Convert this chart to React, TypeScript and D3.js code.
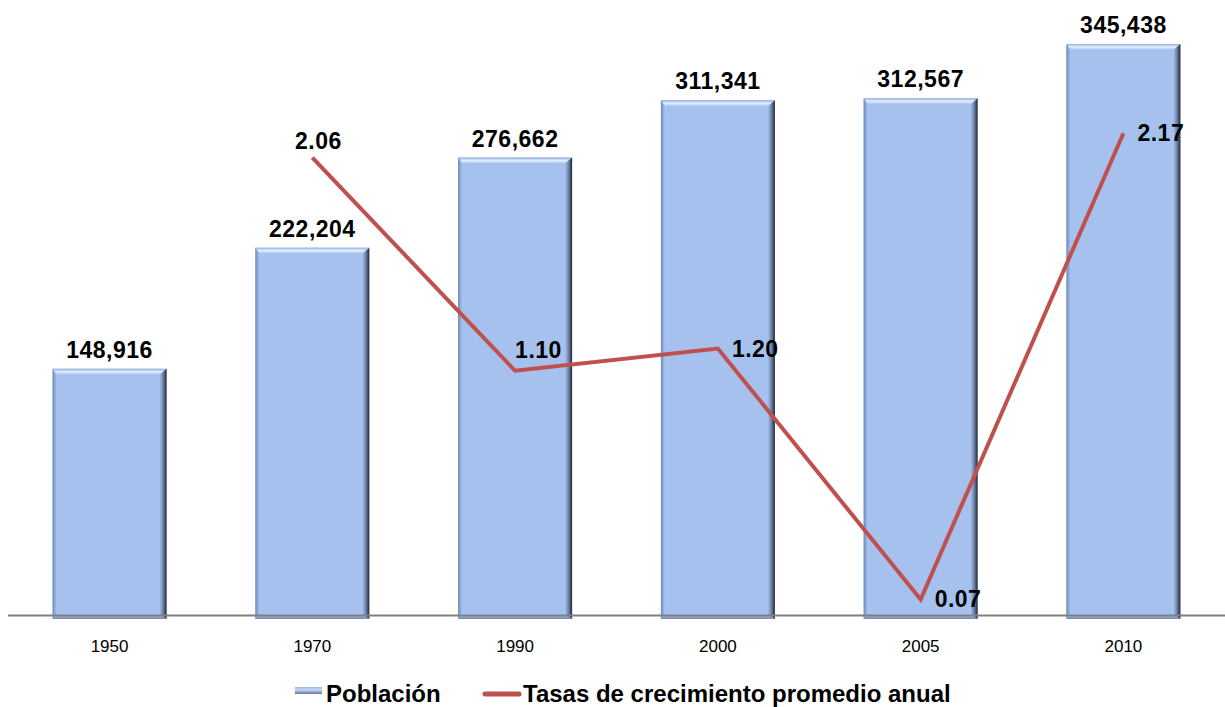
import React from 'react';
import * as d3 from 'd3';

const years = ['1950', '1970', '1990', '2000', '2005', '2010'];
const poblacion = [148916, 222204, 276662, 311341, 312567, 345438];
const tasaYears = ['1970', '1990', '2000', '2005', '2010'];
const tasas = [2.06, 1.1, 1.2, 0.07, 2.17];
// where each growth-rate label sits relative to its point
const tasaLabelPos = ['top', 'topRight', 'right', 'right', 'right'];

const W = 1225;
const H = 707;
const baseY = 615;
const font = '"Liberation Sans", Arial, sans-serif';
const lineColor = '#c0504d';

function BevelBar({ x, y, w, h }: { x: number; y: number; w: number; h: number }) {
  const t = 6, r = 7, l = 4, b = 4;
  return (
    <g>
      <rect x={x} y={y} width={w} height={h} fill="#a6c1ee" />
      <polygon points={`${x},${y} ${x + w},${y} ${x + w - r},${y + t} ${x + l},${y + t}`} fill="url(#bvTop)" />
      <polygon points={`${x},${y} ${x + l},${y + t} ${x + l},${y + h - b} ${x},${y + h}`} fill="url(#bvLeft)" />
      <polygon points={`${x + w},${y} ${x + w},${y + h} ${x + w - r},${y + h - b} ${x + w - r},${y + t}`} fill="url(#bvRight)" />
      <polygon points={`${x},${y + h} ${x + l},${y + h - b} ${x + w - r},${y + h - b} ${x + w},${y + h}`} fill="url(#bvBottom)" />
    </g>
  );
}

export default function App() {
  const x = d3.scaleBand<string>().domain(years).range([8, W]).paddingInner(0.438).paddingOuter(0.22);
  const y = d3.scaleLinear().domain([0, 372000]).range([baseY, 0]);
  const y2 = d3.scaleLinear().domain([0, 2.77]).range([baseY, 0]);
  const fmt = d3.format(',');
  const cx = (k: string) => (x(k) as number) + x.bandwidth() / 2;

  const pts: [number, number][] = tasas.map((v, i) => [cx(tasaYears[i]), y2(v)]);
  const line = d3.line<[number, number]>().x(d => d[0]).y(d => d[1]);

  return (
    <div style={{ position: 'absolute', left: 0, top: 0 }}>
      <svg width={W} height={H} style={{ display: 'block', background: '#fff' }}>
        <defs>
          <linearGradient id="bvTop" x1="0" y1="0" x2="0" y2="1">
            <stop offset="0" stopColor="#8fadde" />
            <stop offset="0.5" stopColor="#e4f0ff" />
            <stop offset="1" stopColor="#a6c1ee" />
          </linearGradient>
          <linearGradient id="bvLeft" x1="0" y1="0" x2="1" y2="0">
            <stop offset="0" stopColor="#6f89b8" />
            <stop offset="1" stopColor="#a6c1ee" />
          </linearGradient>
          <linearGradient id="bvRight" x1="0" y1="0" x2="1" y2="0">
            <stop offset="0" stopColor="#a6c1ee" />
            <stop offset="0.5" stopColor="#6d83a8" />
            <stop offset="1" stopColor="#1f2733" />
          </linearGradient>
          <linearGradient id="bvBottom" x1="0" y1="0" x2="0" y2="1">
            <stop offset="0" stopColor="#a6c1ee" />
            <stop offset="1" stopColor="#7389b2" />
          </linearGradient>
          <linearGradient id="legSw" x1="0" y1="0" x2="0" y2="1">
            <stop offset="0" stopColor="#9fb6dd" />
            <stop offset="0.4" stopColor="#c6d8f4" />
            <stop offset="1" stopColor="#5d76a3" />
          </linearGradient>
        </defs>

        {years.map((k, i) => {
          const top = y(poblacion[i]);
          return (
            <BevelBar key={k} x={x(k) as number} y={top} w={x.bandwidth()} h={baseY - top + 4} />
          );
        })}

        <line x1={8} x2={W} y1={baseY + 0.5} y2={baseY + 0.5} stroke="#808080" strokeWidth={2} />

        {years.map((k, i) => (
          <text key={k} x={cx(k)} y={y(poblacion[i]) - 11} textAnchor="middle"
            fontFamily={font} fontWeight="bold" fontSize={23} letterSpacing={0.5} fill="#000">
            {fmt(poblacion[i])}
          </text>
        ))}

        <path d={line(pts) as string} fill="none" stroke={lineColor} strokeWidth={4} />

        {tasas.map((v, i) => {
          const [px, py] = pts[i];
          const pos = tasaLabelPos[i];
          let tx = px + 14, ty = py + 8, anchor = 'start';
          if (pos === 'top') { tx = px + 6; ty = py - 9; anchor = 'middle'; }
          if (pos === 'topRight') { tx = px; ty = py - 13; }
          return (
            <text key={i} x={tx} y={ty} textAnchor={anchor} fontFamily={font} fontWeight="bold"
              fontSize={23} letterSpacing={0.5} fill="#000">
              {v.toFixed(2)}
            </text>
          );
        })}

        {years.map(k => (
          <text key={k} x={cx(k)} y={652} textAnchor="middle" fontFamily={font} fontSize={17} fill="#000">
            {k}
          </text>
        ))}

        <g fontFamily={font} fontWeight="bold" fontSize={24} fill="#000">
          <rect x={295} y={687} width={27} height={7} fill="url(#legSw)" />
          <text x={326} y={702}>Población</text>
          <line x1={485} x2={519} y1={694} y2={694} stroke={lineColor} strokeWidth={5} strokeLinecap="round" />
          <text x={523} y={702}>Tasas de crecimiento promedio anual</text>
        </g>
      </svg>
    </div>
  );
}
